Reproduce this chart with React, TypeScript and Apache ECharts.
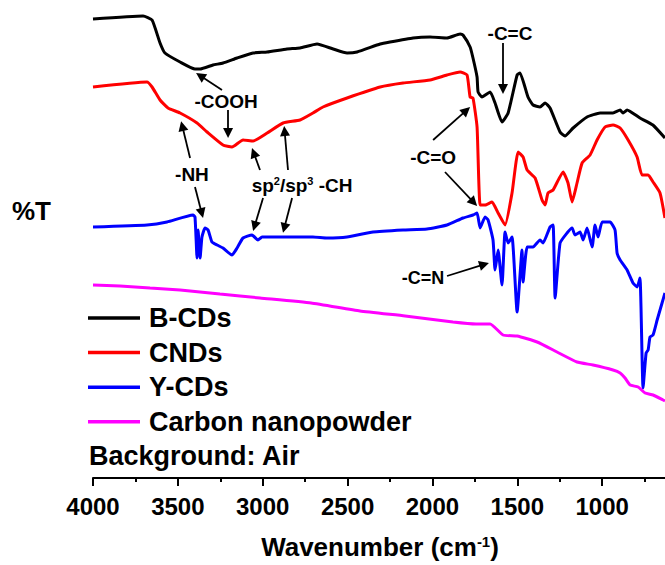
import React, { useEffect, useRef } from "react";
import * as echarts from "echarts";

// FTIR transmittance spectra (wavenumber in cm^-1, %T in arbitrary offset units)
const bcds: [number, number][] = [
  [4000, 114.75], [3705, 115.5], [3652, 114.5], [3605, 108.75], [3576, 106.25], [3487, 104],
  [3399, 102.25], [3369, 102.25], [3293, 103.25], [3234, 103.75], [3151, 105], [3057, 106.25],
  [2974, 106.5], [2857, 107.25], [2780, 107.5], [2680, 108.5], [2585, 107.25], [2503, 106.25],
  [2444, 106.5], [2308, 108.5], [2250, 109], [2114, 110], [2014, 110.25], [1914, 110],
  [1837, 111], [1820, 110.75], [1778, 107.75], [1761, 105], [1737, 100.25], [1731, 96.5],
  [1708, 95.25], [1660, 96.5], [1631, 93.75], [1590, 89], [1554, 91.25], [1501, 100.75],
  [1484, 101.25], [1437, 95.25], [1407, 93.25], [1366, 92.75], [1336, 93.75], [1307, 92.5],
  [1248, 86.5], [1219, 85.5], [1171, 87.5], [1089, 90.25], [1012, 91.25], [936, 91.25],
  [894, 92], [877, 91.25], [853, 92], [777, 90], [701, 88.25], [630, 85],
];

const cnds: [number, number][] = [
  [4000, 97.75], [3682, 99], [3652, 97.75], [3605, 94.5], [3558, 92.5], [3487, 91.25],
  [3387, 88.75], [3328, 86.5], [3234, 83.25], [3181, 82.75], [3116, 84.5], [3057, 84.25],
  [2974, 86.25], [2880, 88.75], [2780, 89.5], [2704, 91.25], [2645, 92.75], [2503, 95],
  [2308, 97.75], [2173, 98.75], [2014, 99.5], [1914, 100.75], [1837, 101.5], [1796, 100.75],
  [1778, 95.25], [1761, 95], [1737, 87.75], [1719, 68.25], [1690, 68.25], [1649, 69],
  [1613, 66.25], [1572, 63.25], [1531, 71.25], [1495, 81.5], [1466, 80.25], [1442, 77],
  [1395, 75], [1354, 69.5], [1336, 68.25], [1319, 71.25], [1289, 72], [1230, 76.5],
  [1201, 73.75], [1177, 69], [1148, 73.75], [1118, 78.75], [1071, 80.75], [1030, 84.5],
  [983, 87.75], [936, 88.25], [894, 87.5], [847, 84.5], [794, 80.25], [765, 75.75],
  [729, 75.75], [700, 74], [659, 71.25], [630, 65],
];

const ycds: [number, number][] = [
  [4000, 62.75], [3682, 63.25], [3564, 64], [3411, 65.75], [3399, 65.25], [3387, 55],
  [3381, 62], [3369, 55], [3358, 60.25], [3340, 62.5], [3322, 62], [3299, 59],
  [3269, 58.25], [3234, 57.5], [3181, 55.75], [3151, 57.5], [3116, 60], [3063, 60.75],
  [3028, 59.5], [3004, 60.25], [2898, 60.25], [2704, 60.25], [2621, 60], [2503, 60.25],
  [2350, 61.5], [2173, 62], [2032, 62.25], [1914, 63.25], [1820, 65], [1761, 65.75],
  [1737, 66.25], [1719, 62.5], [1690, 65.25], [1672, 64.5], [1643, 59.5], [1631, 52],
  [1613, 57], [1590, 48.25], [1572, 61.5], [1554, 58.75], [1531, 60.25], [1501, 41.5],
  [1472, 57], [1466, 49], [1442, 57.75], [1407, 57.75], [1366, 59.5], [1348, 58.75],
  [1307, 62.75], [1289, 63.25], [1277, 45], [1248, 58.75], [1207, 61.25], [1177, 62.5],
  [1160, 60.75], [1130, 61.5], [1112, 59.5], [1089, 62.5], [1059, 57.75], [1042, 63.25],
  [1024, 60.25], [1000, 64], [953, 64], [924, 62], [912, 56.25], [894, 54.5],
  [853, 52], [818, 48.75], [794, 47.75], [777, 50], [759, 22.5], [741, 31.25],
  [729, 32], [718, 35.25], [700, 35.75], [676, 39.5], [647, 43.75], [630, 46.25],
];

const carbonNanopowder: [number, number][] = [
  [4000, 48.25], [3841, 48], [3664, 47.5], [3487, 47], [3252, 46], [3016, 45],
  [2715, 43.75], [2427, 41.75], [2161, 40.5], [1879, 39], [1743, 38.5], [1660, 38.5],
  [1584, 35.75], [1501, 35.5], [1383, 34], [1266, 31.5], [1148, 29], [1054, 28.25],
  [936, 27], [894, 26.25], [865, 25], [835, 23.25], [788, 22.75], [747, 21.25],
  [700, 20.75], [641, 19.5], [630, 19.25],
];

const seriesNames = ["B-CDs", "CNDs", "Y-CDs", "Carbon nanopowder"];
const seriesColors = ["#000000", "#ff0000", "#0000ff", "#ff00ff"];
const seriesData = [bcds, cnds, ycds, carbonNanopowder];

// Band-assignment arrows: [tail wavenumber, tail %T, head wavenumber, head %T]
const arrows: number[][] = [
  [3240, 97, 3368, 100.56],
  [3204, 92, 3204, 86.25],
  [3428, 80, 3474, 88],
  [3399, 72.75, 3359, 66.2],
  [3016, 77, 3053, 81.3],
  [2851, 77, 2871, 86.75],
  [2998, 70, 3048, 62.95],
  [2827, 70, 2873, 62.5],
  [1584, 108.75, 1584, 97.25],
  [1996, 84.5, 1800, 91.9],
  [1926, 76.5, 1757, 68.9],
  [1914, 50.5, 1695, 53.4],
];

// Band-assignment labels: [rich text, wavenumber, %T, font size]
const bandLabels: [string, number, number, number][] = [
  ["{n|-COOH}", 3216, 94.25, 19],
  ["{n|-NH}", 3417, 76, 19],
  ["{n|sp}{s|2}{n|/sp}{s|3}{n| -CH}", 2768, 73.25, 19],
  ["{n|-C=C}", 1543, 111.25, 19],
  ["{n|-C=O}", 1996, 80.25, 19],
  ["{m|-C=N}", 2055, 50, 18],
];

// Lowest wavenumber that carries a tick label
const LABEL_FLOOR = 1000;

const FONT = '"Liberation Sans", Arial, Helvetica, sans-serif';

export default function App() {
  const ref = useRef<HTMLDivElement>(null);

  useEffect(() => {
    if (!ref.current) return;
    const chart = echarts.init(ref.current, null, { renderer: "svg" });

    const series: any[] = seriesNames.map((name, i) => ({
      name,
      type: "line",
      data: seriesData[i],
      showSymbol: false,
      symbol: "none",
      smooth: 0.15,
      color: seriesColors[i],
      lineStyle: { color: seriesColors[i], width: 3 },
      emphasis: { disabled: true },
      silent: true,
      z: 2,
    }));

    series[0].markLine = {
      silent: true,
      symbol: ["none", "triangle"],
      symbolSize: 10,
      lineStyle: { color: "#000", width: 1.8, type: "solid" },
      itemStyle: { color: "#000" },
      label: { show: false },
      emphasis: { disabled: true },
      data: arrows.map((a) => [
        { coord: [a[0], a[1]] },
        { coord: [a[2], a[3]] },
      ]),
    };

    series[0].markPoint = {
      silent: true,
      symbol: "circle",
      symbolSize: 0,
      data: bandLabels.map(([text, w, t, size]) => ({
        coord: [w, t],
        label: {
          show: true,
          position: "inside",
          formatter: text,
          rich: {
            n: { fontSize: size, fontWeight: "bold", color: "#000", fontFamily: FONT },
            m: { fontSize: size, fontWeight: "bold", color: "#000", fontFamily: FONT },
            s: { fontSize: 11, fontWeight: "bold", color: "#000", fontFamily: FONT, verticalAlign: "top" },
          },
        },
      })),
    };

    chart.setOption({
      animation: false,
      backgroundColor: "#fff",
      // the plotted range runs to 500 cm^-1; the canvas shows it down to ~630 cm^-1
      grid: {
        left: 93,
        width: 594,
        top: -2,
        height: 480,
        containLabel: false,
        outerBoundsMode: "none",
      },
      xAxis: {
        type: "value",
        inverse: true,
        min: 500,
        max: 4000,
        interval: 500,
        axisLine: { show: true, onZero: false, lineStyle: { color: "#000", width: 2 } },
        axisTick: { show: true, inside: false, length: 8, lineStyle: { color: "#000", width: 2 } },
        minorTick: { show: true, splitNumber: 2, length: 4, lineStyle: { color: "#000", width: 2 } },
        splitLine: { show: false },
        axisLabel: {
          fontSize: 24,
          fontWeight: "bold",
          color: "#000",
          fontFamily: FONT,
          margin: 16,
          formatter: (v: number) => (v < LABEL_FLOOR ? "" : String(v)),
        },
      },
      yAxis: { type: "value", min: 0, max: 120, show: false },
      legend: {
        orient: "vertical",
        left: 88,
        top: 303,
        padding: 0,
        itemWidth: 52,
        itemHeight: 3.5,
        itemGap: 4.6,
        icon: "rect",
        selectedMode: false,
        data: seriesNames,
        textStyle: {
          fontSize: 27,
          fontWeight: "bold",
          color: "#000",
          fontFamily: FONT,
          lineHeight: 30,
          padding: [0, 0, 0, 4],
        },
      },
      graphic: [
        {
          type: "text",
          x: 12,
          y: 211,
          style: {
            text: "%T",
            fill: "#000",
            font: `bold 26px ${FONT}`,
            textAlign: "left",
            textVerticalAlign: "middle",
          },
        },
        {
          type: "text",
          x: 89,
          y: 456,
          style: {
            text: "Background: Air",
            fill: "#000",
            font: `bold 27px ${FONT}`,
            textAlign: "left",
            textVerticalAlign: "middle",
          },
        },
        {
          type: "text",
          x: 380,
          y: 547,
          style: {
            text: "{a|Wavenumber (cm}{s|-1}{a|)}",
            textAlign: "center",
            textVerticalAlign: "middle",
            rich: {
              a: { fontSize: 26, fontWeight: "bold", fill: "#000", fontFamily: FONT },
              s: { fontSize: 15, fontWeight: "bold", fill: "#000", fontFamily: FONT, verticalAlign: "top" },
            },
          },
        },
      ],
      series,
    });

    return () => chart.dispose();
  }, []);

  return (
    <div
      ref={ref}
      style={{ position: "fixed", left: 0, top: 0, width: 665, height: 565, background: "#fff" }}
    />
  );
}
